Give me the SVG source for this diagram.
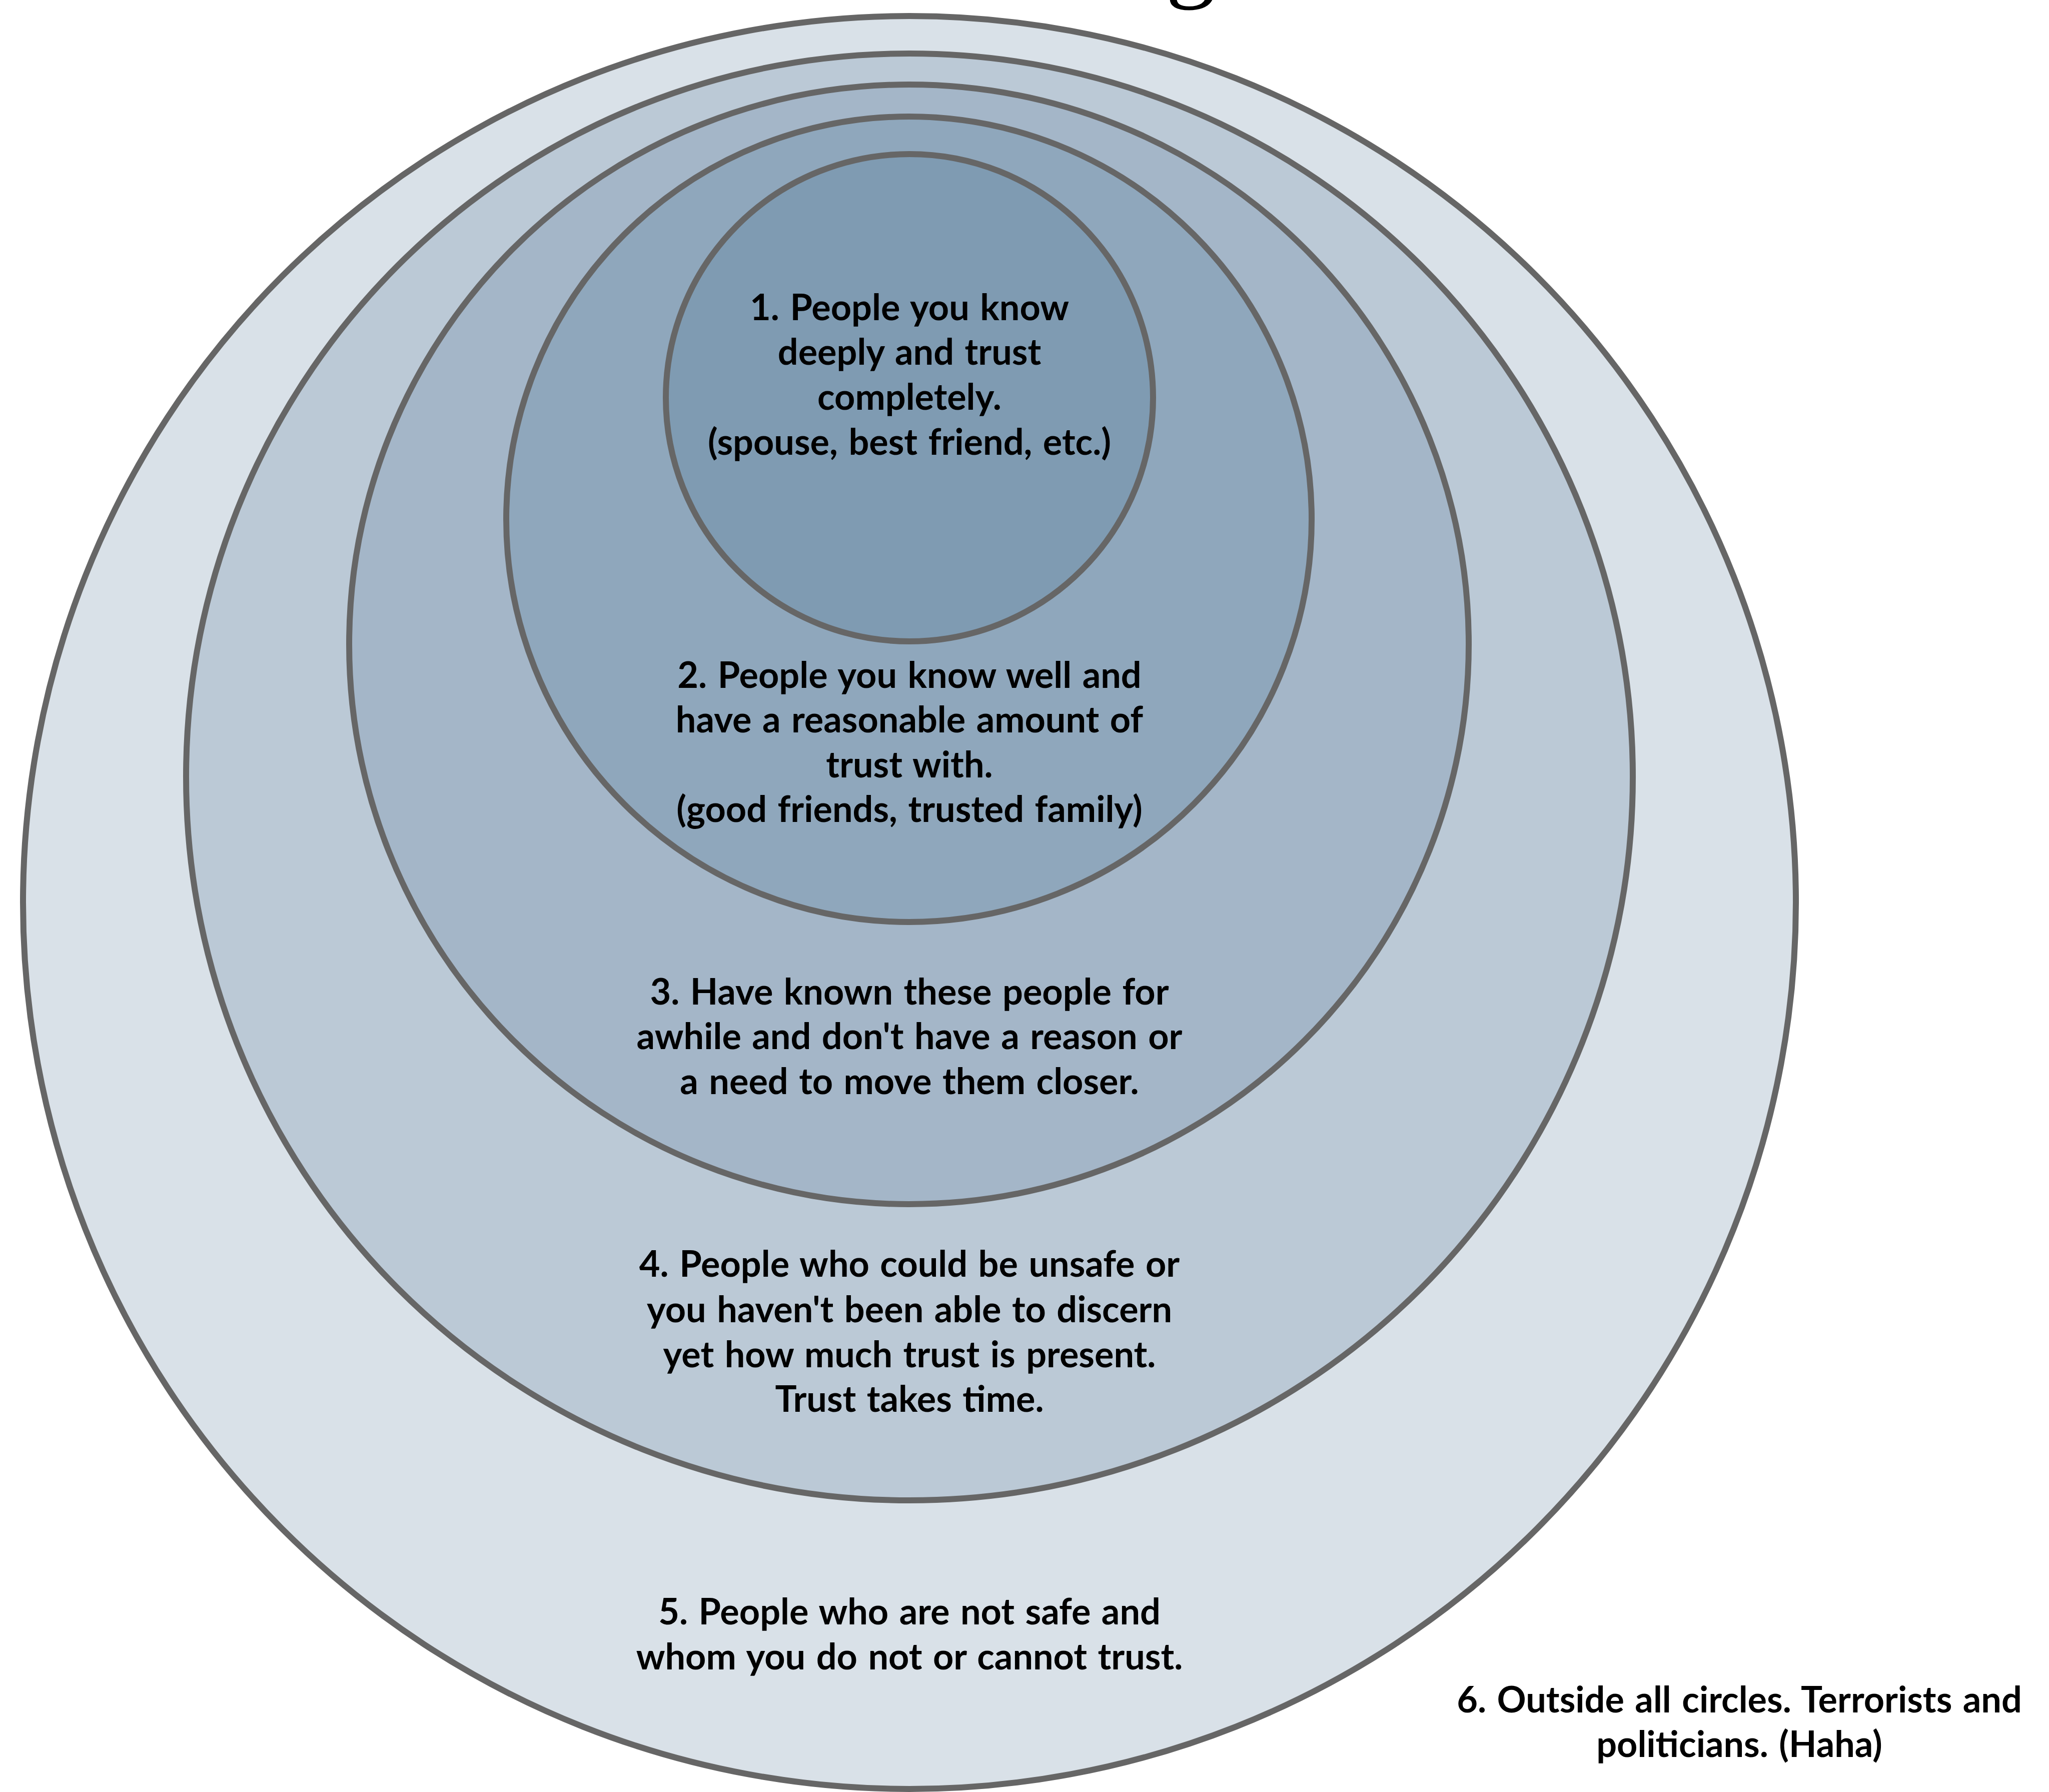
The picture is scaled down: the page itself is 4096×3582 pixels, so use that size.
<svg xmlns="http://www.w3.org/2000/svg" width="4096" height="3582" viewBox="0 0 4096 3582">
<style>
.ring{stroke:#666666;stroke-width:12}
.lbl{font-family:Lato,"Open Sans","Liberation Sans",sans-serif;font-weight:700;font-size:72px;word-spacing:4px;fill:#000;text-anchor:middle}
.title{font-family:"Liberation Serif","DejaVu Serif",serif;font-size:200px;fill:#000;text-anchor:middle}
</style>
<rect width="4096" height="3582" fill="#ffffff"/>
<text class="title" x="2380" y="-22">g</text>
<g id="ring5"><circle class="ring" cx="1818" cy="1804" r="1772" fill="#d9e1e8"/></g>
<g id="ring4"><circle class="ring" cx="1818" cy="1553" r="1446" fill="#bbc9d6"/></g>
<g id="ring3"><circle class="ring" cx="1817" cy="1288" r="1119" fill="#a4b6c8"/></g>
<g id="ring2"><circle class="ring" cx="1817" cy="1038" r="805" fill="#8fa7bc"/></g>
<g id="ring1"><circle class="ring" cx="1818" cy="795" r="487" fill="#7f9bb2"/></g>
<g id="connectors"></g>
<g id="label1">
<text class="lbl" x="1818" y="640">1. People you know</text>
<text class="lbl" x="1818" y="729">deeply and trust</text>
<text class="lbl" x="1818" y="819">completely.</text>
<text class="lbl" x="1818" y="909">(spouse, best friend, etc.)</text>
</g>
<g id="label2">
<text class="lbl" x="1818" y="1375">2. People you know well and</text>
<text class="lbl" x="1818" y="1464">have a reasonable amount of</text>
<text class="lbl" x="1818" y="1554">trust with.</text>
<text class="lbl" x="1818" y="1643">(good friends, trusted family)</text>
</g>
<g id="label3">
<text class="lbl" x="1818" y="2008">3. Have known these people for</text>
<text class="lbl" x="1818" y="2097">awhile and don't have a reason or</text>
<text class="lbl" x="1818" y="2187">a need to move them closer.</text>
</g>
<g id="label4">
<text class="lbl" x="1818" y="2552">4. People who could be unsafe or</text>
<text class="lbl" x="1818" y="2643">you haven't been able to discern</text>
<text class="lbl" x="1818" y="2733">yet how much trust is present.</text>
<text class="lbl" x="1818" y="2822">Trust takes time.</text>
</g>
<g id="label5">
<text class="lbl" x="1818" y="3247">5. People who are not safe and</text>
<text class="lbl" x="1818" y="3337">whom you do not or cannot trust.</text>
</g>
<g id="label6">
<text class="lbl" x="3477" y="3423">6. Outside all circles. Terrorists and</text>
<text class="lbl" x="3477" y="3512">politicians. (Haha)</text>
</g>
</svg>
